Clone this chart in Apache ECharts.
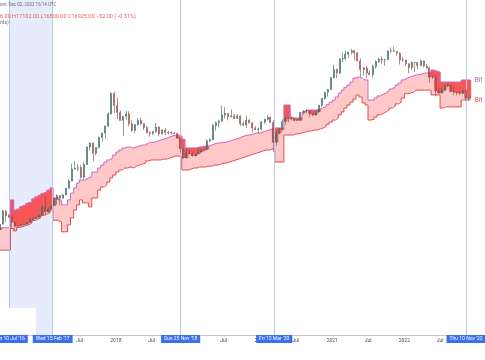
<!DOCTYPE html>
<html><head><meta charset="utf-8">
<script src="https://cdn.jsdelivr.net/npm/echarts@6/dist/echarts.min.js"></script>
<style>html,body{margin:0;padding:0;background:#fff}#c{width:485px;height:360px}</style>
</head><body><div id="c"></div>
<script>
const periods = [
'2016-05-16','2016-06-01','2016-06-16','2016-07-01','2016-07-16','2016-08-01','2016-08-16','2016-09-01','2016-09-16','2016-10-01','2016-10-16','2016-11-01','2016-11-16','2016-12-01','2016-12-16',
'2017-01-01','2017-01-16','2017-02-01','2017-02-16','2017-03-01','2017-03-16','2017-04-01','2017-04-16','2017-05-01','2017-05-16','2017-06-01','2017-06-16','2017-07-01','2017-07-16','2017-08-01','2017-08-16','2017-09-01','2017-09-16','2017-10-01','2017-10-16','2017-11-01','2017-11-16','2017-12-01','2017-12-16',
'2018-01-01','2018-01-16','2018-02-01','2018-02-16','2018-03-01','2018-03-16','2018-04-01','2018-04-16','2018-05-01','2018-05-16','2018-06-01','2018-06-16','2018-07-01','2018-07-16','2018-08-01','2018-08-16','2018-09-01','2018-09-16','2018-10-01','2018-10-16','2018-11-01','2018-11-16','2018-12-01','2018-12-16',
'2019-01-01','2019-01-16','2019-02-01','2019-02-16','2019-03-01','2019-03-16','2019-04-01','2019-04-16','2019-05-01','2019-05-16','2019-06-01','2019-06-16','2019-07-01','2019-07-16','2019-08-01','2019-08-16','2019-09-01','2019-09-16','2019-10-01','2019-10-16','2019-11-01','2019-11-16','2019-12-01','2019-12-16',
'2020-01-01','2020-01-16','2020-02-01','2020-02-16','2020-03-01','2020-03-16','2020-04-01','2020-04-16','2020-05-01','2020-05-16','2020-06-01','2020-06-16','2020-07-01','2020-07-16','2020-08-01','2020-08-16','2020-09-01','2020-09-16','2020-10-01','2020-10-16','2020-11-01','2020-11-16','2020-12-01','2020-12-16',
'2021-01-01','2021-01-16','2021-02-01','2021-02-16','2021-03-01','2021-03-16','2021-04-01','2021-04-16','2021-05-01','2021-05-16','2021-06-01','2021-06-16','2021-07-01','2021-07-16','2021-08-01','2021-08-16','2021-09-01','2021-09-16','2021-10-01','2021-10-16','2021-11-01','2021-11-16','2021-12-01','2021-12-16',
'2022-01-01','2022-01-16','2022-02-01','2022-02-16','2022-03-01','2022-03-16','2022-04-01','2022-04-16','2022-05-01','2022-05-16','2022-06-01','2022-06-16','2022-07-01','2022-07-16','2022-08-01','2022-08-16','2022-09-01','2022-09-16','2022-10-01','2022-10-16','2022-11-01','2022-11-16','2022-12-01'
];
const lastPeriodEnd = '2022-12-03';

const opens = [
455,530,760,670,640,560,500,505,520,530,555,600,620,640,680,
860,740,800,880,1050,1160,1080,1180,1420,1730,2400,2450,2490,1920,2720,4380,4890,3700,4340,5700,6450,7800,10900,19100,
13800,11300,9100,10200,10900,8300,6900,8100,9100,8300,7500,6500,6400,6700,7600,6300,7000,6500,6600,6450,6350,5600,4200,3250,
3700,3650,3450,3620,3820,4000,4100,5200,5350,7900,8550,8900,10600,11000,10100,10300,9600,10300,8300,8000,9150,8500,7400,7100,
7200,8700,9400,9900,8600,5000,6400,7100,8800,9600,9500,9450,9100,9100,11300,11800,11900,10900,10600,11500,13800,16700,19700,21300,
29400,36700,33500,49100,49600,56000,59000,61300,57800,46400,36700,38300,33500,31800,39900,45900,48900,47700,48200,60900,61300,60300,57200,47600,
47700,43100,38700,44600,44400,41100,46300,40500,38500,29800,29800,20400,19300,20800,23300,23900,20100,19700,19300,19100,20500,16700,16900
];
const closes = [
530,760,670,640,560,500,505,520,530,555,600,620,640,680,860,
740,800,880,1050,1160,1080,1180,1420,1730,2400,2450,2490,1920,2720,4380,4890,3700,4340,5700,6450,7800,10900,19100,13800,
11300,9100,10200,10900,8300,6900,8100,9100,8300,7500,6500,6400,6700,7600,6300,7000,6500,6600,6450,6350,5600,4200,3250,3700,
3650,3450,3620,3820,4000,4100,5200,5350,7900,8550,8900,10600,11000,10100,10300,9600,10300,8300,8000,9150,8500,7400,7100,7200,
8700,9400,9900,8600,5000,6400,7100,8800,9600,9500,9450,9100,9100,11300,11800,11900,10900,10600,11500,13800,16700,19700,21300,29400,
36700,33500,49100,49600,56000,59000,61300,57800,46400,36700,38300,33500,31800,39900,45900,48900,47700,48200,60900,61300,60300,57200,47600,47700,
43100,38700,44600,44400,41100,46300,40500,38500,29800,29800,20400,19300,20800,23300,23900,20100,19700,19300,19100,20500,16700,16900,16925
];
const lows = [
438,525,560,630,480,450,490,500,515,525,550,590,610,635,675,
680,730,790,870,900,890,1065,1170,1410,1720,2380,2250,1840,1840,2670,3980,2980,3500,4200,5100,5500,7700,10700,11200,
9400,9000,5900,9300,7800,6600,6400,7800,8000,7000,6400,5800,6100,6500,5900,6200,6100,6200,6200,6300,5500,3800,3200,3200,
3550,3400,3400,3600,3700,3900,4050,5000,5300,6900,7500,8800,9600,9100,9900,9400,9500,7800,7800,7400,8400,6500,7000,6400,
6900,8300,9200,8500,3800,4500,6200,6800,8100,8600,9100,8900,9000,9050,10700,11100,9900,10200,10400,11200,13200,16000,17600,21000,
29000,28900,32300,45000,47000,50400,55500,47100,46000,30000,31000,28800,31500,29300,37500,43900,42800,40600,47500,58000,60000,53500,42000,45500,
40600,33000,36300,34300,37200,40500,39200,37600,25400,28000,17600,18600,18800,20700,22700,19600,18200,18200,18200,18700,15600,15800,16800
];
const highs = [
540,780,780,700,660,575,520,530,540,560,620,640,650,690,880,
1150,830,900,1080,1200,1170,1215,1420,1820,2790,2980,2760,2680,2900,4480,4980,4980,4370,5850,6460,7880,11300,19800,19900,
17200,11900,10300,11800,11700,9200,8300,9800,9900,8500,7800,6800,6800,8500,7700,7100,7400,6800,6700,6600,6500,5700,4300,4200,
4100,3800,3650,4200,4050,4150,5400,5600,8300,8800,9300,13800,13100,11100,12300,10900,10900,10400,8800,10300,9500,8700,7800,7500,
8900,9500,10500,10200,9200,6900,7400,9400,10000,9950,10300,9600,9400,11400,12100,12450,12000,11100,11600,13900,16800,19800,21500,29500,
41900,37800,49700,58300,61700,60000,64800,63000,59500,50000,39500,40500,35900,42000,47100,50500,52900,48500,62900,67000,69000,61000,59000,52000,
48000,43500,45800,44800,45400,48200,47400,42900,40000,31300,31700,21900,22500,24200,25200,24400,22700,19900,20400,21000,21400,17200,17102
];
const bandUpper = [
480,480,480,480,1030,780,810,860,900,950,970,1060,1120,1180,1240,
1270,1350,1430,1090,1090,1030,900,900,1030,1240,1430,1640,1780,1780,1880,1930,2210,2210,2470,2680,2910,3080,3250,3530,
3830,4050,4280,4400,4400,4280,4400,4520,4640,4640,4900,5000,5000,5150,5300,5450,5600,5800,5950,6100,6100,5950,5450,4280,
4280,4280,4280,4400,4400,4520,4520,4640,4770,4900,4900,5000,5000,5150,5300,5450,5600,5800,5950,6100,6100,6300,6450,6450,
6600,6800,7000,7200,7400,7400,7400,7400,13900,13900,9800,9700,9700,9900,11500,12100,12100,12100,12100,12400,12800,13200,14000,15000,
15900,17300,19300,20900,22600,24000,26100,29100,30000,29100,27600,27600,15900,15900,16800,17800,18600,19300,20300,21500,22600,24000,25400,27600,
29100,29900,30800,31700,31700,32500,33400,33400,34300,36300,35300,34300,26100,26100,26100,26100,26100,26100,26100,27600,27600,27600,27600
];
const bandLower = [
260,260,260,260,470,440,485,495,510,520,545,585,605,630,670,
700,725,785,590,590,560,430,430,520,630,780,900,1030,950,950,850,1090,1090,1350,1470,1550,1680,1880,2040,
2210,2340,2470,2470,2540,2470,2600,2680,2750,2830,3000,3080,3080,3080,3080,3160,3160,3250,3340,3430,3430,3340,2340,2340,
2400,2470,2470,2540,2540,2540,2600,2600,2680,2680,2750,2830,2830,2910,3000,3080,3160,3250,3340,3430,3530,3630,3730,3830,
3940,4050,4050,4160,4160,2910,2910,2910,6100,6100,6100,6300,6300,6450,6600,6800,6800,7000,7000,7200,7400,7700,8200,8700,
9200,9700,10600,11500,12800,13900,15000,16300,18300,17300,14700,13900,9200,9400,10000,10600,11000,11500,12100,12800,13500,14300,15000,16800,
18900,19300,19800,20900,20900,20900,20900,20900,20900,18300,18300,18300,12800,13200,13200,13200,13200,13200,13200,15900,15900,15900,15900
];
const tickDates = ['2016-07-01','2017-01-01','2017-07-01','2018-01-01','2018-07-01','2019-01-01','2019-07-01','2020-01-01','2020-07-01','2021-01-01','2021-07-01','2022-01-01','2022-07-01','2023-01-01'];
const tickTexts = ['Jul','2017','Jul','2018','Jul','2019','Jul','2020','Jul','2021','Jul','2022','Jul','2023'];
const eventDates = ['2016-07-10','2017-02-15','2018-11-25','2020-03-13','2022-11-10'];
const eventTexts = ["Sun 10 Jul '16","Wed 15 Feb '17","Sun 25 Nov '18","Fri 13 Mar '20","Thu 10 Nov '22"];
const shadeRange = ['2016-07-10','2017-02-15'];
const headerLine1 = 'om, Dec 02, 2022 16:14 UTC';
const headerLine2 = '6.00 H17102.00 L16800.00 C16925.00 \u221252.00 (\u22120.31%)';
const headerLine3 = 'nts)';
const bandLabels = ['Bit', 'Bit'];

const ts = s => Date.parse(s + 'T00:00:00Z');
const T = periods.map(ts);
const TEND = ts(lastPeriodEnd);
const N = T.length;
const tEnd = i => (i < N - 1 ? T[i + 1] : TEND);
const tickMap = {};
tickDates.forEach((d, i) => { tickMap[ts(d)] = tickTexts[i]; });

const candleData = T.map((t, i) => [(t + tEnd(i)) / 2, opens[i], closes[i], lows[i], highs[i]]);
const redData = [];
T.forEach((t, i) => {
  const body = Math.min(opens[i], closes[i]);
  if (body < bandUpper[i]) redData.push([t, tEnd(i), bandUpper[i], Math.max(body, bandLower[i])]);
});
const stepU = T.map((t, i) => [t, bandUpper[i]]).concat([[TEND, bandUpper[N - 1]]]);
const stepL = T.map((t, i) => [t, bandLower[i]]).concat([[TEND, bandLower[N - 1]]]);

const FONT = 'Roboto, "Noto Sans", sans-serif';
const chart = echarts.init(document.getElementById('c'), null, { renderer: 'canvas' });
chart.setOption({
  animation: false,
  backgroundColor: '#ffffff',
  title: [
    { text: headerLine1, left: 0, top: 2.5, padding: 0, textStyle: { fontSize: 4.5, color: '#6a6d78', fontWeight: 'normal', fontFamily: FONT } },
    { text: headerLine2, left: 0, top: 14, padding: 0, textStyle: { fontSize: 5.5, color: '#e8605c', fontWeight: 'normal', fontFamily: FONT } },
    { text: headerLine3, left: 0, top: 20.5, padding: 0, textStyle: { fontSize: 5, color: '#6a6d78', fontWeight: 'normal', fontFamily: FONT } }
  ],
  grid: { left: 0, right: 0, top: 0, bottom: 25, containLabel: false },
  xAxis: {
    type: 'value', min: ts('2016-05-24'), max: ts('2023-01-30'),
    axisLine: { show: true, lineStyle: { color: '#c8c8c8', width: 1 } },
    axisTick: { show: false },
    splitLine: { show: false },
    axisLabel: {
      customValues: tickDates.map(ts),
      formatter: v => tickMap[v] || '',
      fontSize: 5, color: '#4a4a4a', margin: 3, fontFamily: FONT, hideOverlap: false
    }
  },
  yAxis: { type: 'log', logBase: 10, min: 25.4, max: 247000, show: false, splitLine: { show: false } },
  series: [
    {
      type: 'line', z: 1, data: [], silent: true,
      markArea: { silent: true, itemStyle: { color: '#e6ecfc' }, data: [[{ xAxis: ts(shadeRange[0]) }, { xAxis: ts(shadeRange[1]) }]] },
      markLine: {
        silent: true, symbol: ['none', 'none'],
        lineStyle: { color: '#b6c8ef', width: 1, type: 'solid' },
        label: { show: true, position: 'start', distance: 0, color: '#ffffff', backgroundColor: '#3a6ff0', fontSize: 5, padding: [1.5, 3], fontFamily: FONT },
        data: eventDates.map((d, i) => ({ xAxis: ts(d), label: { formatter: eventTexts[i] } }))
      }
    },
    {
      type: 'custom', z: 2, silent: true, data: [[T[0], bandUpper[0]]],
      renderItem: (params, api) => {
        const up = [], lo = [];
        for (let i = 0; i < N; i++) {
          up.push(api.coord([T[i], bandUpper[i]]), api.coord([tEnd(i), bandUpper[i]]));
          lo.push(api.coord([T[i], bandLower[i]]), api.coord([tEnd(i), bandLower[i]]));
        }
        return { type: 'polygon', shape: { points: up.concat(lo.reverse()) }, style: { fill: '#ffc9c9' } };
      }
    },
    {
      type: 'custom', z: 3, silent: true, data: redData,
      renderItem: (params, api) => {
        const p0 = api.coord([api.value(0), api.value(2)]);
        const p1 = api.coord([api.value(1), api.value(3)]);
        return { type: 'rect', shape: { x: p0[0], y: p0[1], width: p1[0] - p0[0] + 0.5, height: p1[1] - p0[1] }, style: { fill: '#f65656' } };
      }
    },
    {
      type: 'line', z: 4, step: 'end', data: stepU, showSymbol: false, silent: true,
      lineStyle: { color: '#c46ac8', width: 1 },
      endLabel: { show: true, formatter: bandLabels[0], color: '#b45cbf', fontSize: 6.5, distance: 4, fontFamily: FONT }
    },
    {
      type: 'line', z: 4, step: 'end', data: stepL, showSymbol: false, silent: true,
      lineStyle: { color: '#e44a4a', width: 1 },
      endLabel: { show: true, formatter: bandLabels[1], color: '#e45050', fontSize: 6.5, distance: 4, fontFamily: FONT }
    },
    {
      type: 'candlestick', z: 5, silent: true, data: candleData, barWidth: 1.5,
      encode: { x: 0, y: [1, 2, 3, 4] },
      itemStyle: { color: '#4fa08a', color0: '#e06a66', borderColor: '#3f6258', borderColor0: '#7f4b49', borderWidth: 0.6 }
    }
  ],
  graphic: [
    { type: 'rect', z: 100, shape: { x: 0, y: 308, width: 36, height: 26.5 }, style: { fill: '#ffffff' } }
  ]
});
</script></body></html>
